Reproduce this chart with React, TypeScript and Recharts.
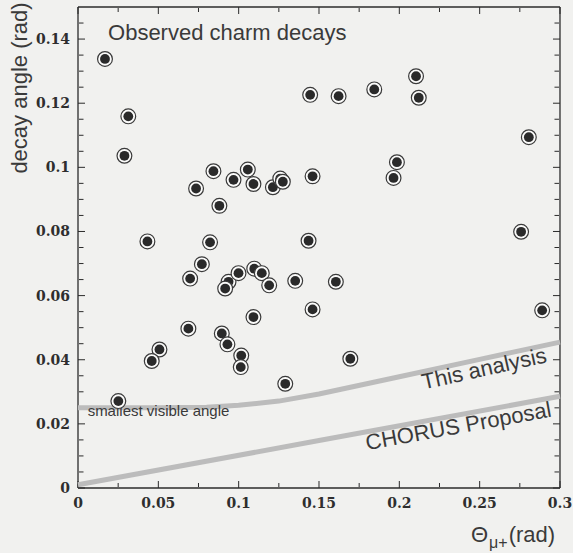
import React from 'react';
import { ScatterChart, Scatter, XAxis, YAxis } from 'recharts';

// Observed charm decays (Theta_mu+ [rad], decay angle [rad])
const decayX = [0.0168, 0.0313, 0.0289, 0.0843, 0.0735, 0.0968, 0.1057, 0.1092, 0.1213, 0.1259, 0.1275, 0.0880, 0.0432, 0.0822, 0.0771, 0.0698, 0.0937, 0.0916, 0.0999, 0.1097, 0.1144, 0.1190, 0.1352, 0.1092, 0.0687, 0.0895, 0.0930, 0.1016, 0.1013, 0.0507, 0.0459, 0.1290, 0.1435, 0.1445, 0.1622, 0.1844, 0.2104, 0.2121, 0.2806, 0.1985, 0.1964, 0.1460, 0.2758, 0.1605, 0.1460, 0.2889, 0.1695, 0.0251];
const decayY = [0.1338, 0.1159, 0.1036, 0.0988, 0.0934, 0.0961, 0.0993, 0.0948, 0.0938, 0.0965, 0.0955, 0.0880, 0.0769, 0.0766, 0.0698, 0.0653, 0.0643, 0.0622, 0.0670, 0.0684, 0.0670, 0.0632, 0.0646, 0.0533, 0.0497, 0.0482, 0.0448, 0.0413, 0.0377, 0.0432, 0.0396, 0.0325, 0.0771, 0.1226, 0.1222, 0.1243, 0.1284, 0.1217, 0.1094, 0.1016, 0.0967, 0.0972, 0.0799, 0.0643, 0.0557, 0.0554, 0.0403, 0.0271];

// Threshold curves
const thisAnalysisX = [0, 0.05, 0.08, 0.1, 0.125, 0.15, 0.2, 0.25, 0.3];
const thisAnalysisY = [0.025, 0.025, 0.0252, 0.0258, 0.0271, 0.0293, 0.0347, 0.0401, 0.0455];
const chorusX = [0, 0.15, 0.3];
const chorusY = [0.001, 0.0148, 0.0286];

// Ticks
const xMajorTicks = [0, 0.05, 0.1, 0.15, 0.2, 0.25, 0.3];
const xTickLabels = ['0', '0.05', '0.1', '0.15', '0.2', '0.25', '0.3'];
const xMinorTicks = [0.025, 0.075, 0.125, 0.175, 0.225, 0.275];
const yMajorTicks = [0, 0.02, 0.04, 0.06, 0.08, 0.1, 0.12, 0.14];
const yTickLabels = ['0', '0.02', '0.04', '0.06', '0.08', '0.1', '0.12', '0.14'];
const yMinorTicks = [0.005, 0.01, 0.015, 0.025, 0.03, 0.035, 0.045, 0.05, 0.055, 0.065, 0.07, 0.075, 0.085, 0.09, 0.095, 0.105, 0.11, 0.115, 0.125, 0.13, 0.135, 0.145];

// Annotations
const noteTexts = ['Observed charm decays', 'smallest visible angle', 'This analysis', 'CHORUS Proposal'];
const noteX = [0.0187, 0.006, 0.2151, 0.1799];
const noteY = [0.1396, 0.0226, 0.0307, 0.0118];
const noteStyle = [
  { size: 22, angle: 0 },
  { size: 15, angle: 0 },
  { size: 22, angle: -12.5 },
  { size: 22, angle: -10.3 },
];

const decays = decayX.map((x, i) => ({ x, y: decayY[i] }));
const thisAnalysis = thisAnalysisX.map((x, i) => ({ x, y: thisAnalysisY[i] }));
const chorus = chorusX.map((x, i) => ({ x, y: chorusY[i] }));
const notes = noteTexts.map((text, i) => ({ x: noteX[i], y: noteY[i], text, idx: i }));

const SANS = 'Liberation Sans, Arial, Helvetica, sans-serif';
const SERIF = 'DejaVu Serif, serif';
const AXIS = '#2b2b2b';

const Marker = (p: any) => (
  <g>
    <circle cx={p.cx} cy={p.cy} r={7.4} fill="#fbfbfa" stroke="#3a3a3a" strokeWidth={1.2} />
    <circle cx={p.cx} cy={p.cy} r={4.9} fill="#2a2a2a" />
  </g>
);

const Empty = () => <g />;

const NoteShape = (p: any) => {
  const st = noteStyle[p.payload.idx];
  return (
    <text
      x={p.cx}
      y={p.cy}
      fontFamily={SANS}
      fontSize={st.size}
      fill="#3a3a3a"
      transform={st.angle ? `rotate(${st.angle} ${p.cx} ${p.cy})` : undefined}
    >
      {p.payload.text}
    </text>
  );
};

const XLabel = (props: any) => {
  const vb = props.viewBox;
  return (
    <text x={vb.x + vb.width - 89} y={vb.y + 54} fontFamily={SANS} fontSize={22} fill="#3a3a3a">
      <tspan>Θ</tspan>
      <tspan dx={1} dy={6} fontSize={16}>μ+</tspan>
      <tspan dx={1} dy={-6}>(rad)</tspan>
    </text>
  );
};

const YLabel = (props: any) => {
  const vb = props.viewBox;
  const cx = vb.x + 27;
  const cy = vb.y + 81;
  return (
    <text x={cx} y={cy} fontFamily={SANS} fontSize={22} fill="#3a3a3a" textAnchor="middle" transform={`rotate(-90 ${cx} ${cy})`}>
      decay angle (rad)
    </text>
  );
};

const tickText = { fontFamily: SERIF, fontSize: 14, fontWeight: 700, fill: '#2e2e2e' };
const tl = { stroke: AXIS, strokeWidth: 1 };
const al = { stroke: AXIS, strokeWidth: 1.3 };

const tickPairs = [
  ['bMaj', 'lMaj'],
  ['bMin', 'lMin'],
  ['tMaj', 'rMaj'],
  ['tMin', 'rMin'],
];

export default function App() {
  return (
    <div style={{ position: 'absolute', left: 0, top: 0, width: 573, height: 553, background: '#f1f1ef' }}>
      <ScatterChart width={573} height={553} margin={{ top: 7, right: 13, bottom: 35, left: 0 }}>
        {/* label axes */}
        <XAxis
          xAxisId="main"
          type="number"
          dataKey="x"
          domain={[0, 0.3]}
          ticks={xMajorTicks}
          tickFormatter={(v: number, i: number) => xTickLabels[i]}
          tick={tickText}
          tickLine={false}
          tickSize={0}
          tickMargin={10}
          axisLine={al}
          height={30}
          interval={0}
          label={XLabel}
        />
        <YAxis
          yAxisId="main"
          type="number"
          dataKey="y"
          domain={[0, 0.15]}
          ticks={yMajorTicks}
          tickFormatter={(v: number, i: number) => yTickLabels[i]}
          tick={tickText}
          tickLine={false}
          tickSize={0}
          tickMargin={8}
          axisLine={al}
          width={78}
          interval={0}
          label={YLabel}
        />
        {/* inward tick marks */}
        <XAxis xAxisId="bMaj" type="number" dataKey="x" domain={[0, 0.3]} ticks={xMajorTicks} mirror height={1} tick={Empty} tickLine={tl} tickSize={7} axisLine={false} interval={0} />
        <XAxis xAxisId="bMin" type="number" dataKey="x" domain={[0, 0.3]} ticks={xMinorTicks} mirror height={1} tick={Empty} tickLine={tl} tickSize={4} axisLine={false} interval={0} />
        <XAxis xAxisId="tMaj" orientation="top" type="number" dataKey="x" domain={[0, 0.3]} ticks={xMajorTicks} mirror height={1} tick={Empty} tickLine={tl} tickSize={7} axisLine={false} interval={0} />
        <XAxis xAxisId="tMin" orientation="top" type="number" dataKey="x" domain={[0, 0.3]} ticks={xMinorTicks} mirror height={1} tick={Empty} tickLine={tl} tickSize={4} axisLine={false} interval={0} />
        <YAxis yAxisId="lMaj" type="number" dataKey="y" domain={[0, 0.15]} ticks={yMajorTicks} mirror width={1} tick={Empty} tickLine={tl} tickSize={7} axisLine={false} interval={0} />
        <YAxis yAxisId="lMin" type="number" dataKey="y" domain={[0, 0.15]} ticks={yMinorTicks} mirror width={1} tick={Empty} tickLine={tl} tickSize={4.5} axisLine={false} interval={0} />
        <YAxis yAxisId="rMaj" orientation="right" type="number" dataKey="y" domain={[0, 0.15]} ticks={yMajorTicks} mirror width={1} tick={Empty} tickLine={tl} tickSize={7} axisLine={false} interval={0} />
        <YAxis yAxisId="rMin" orientation="right" type="number" dataKey="y" domain={[0, 0.15]} ticks={yMinorTicks} mirror width={1} tick={Empty} tickLine={tl} tickSize={4.5} axisLine={false} interval={0} />
        {/* frame: top and right edges */}
        <XAxis xAxisId="tFrame" orientation="top" type="number" dataKey="x" domain={[0, 0.3]} height={0.01} tick={false} tickLine={false} axisLine={al} />
        <YAxis yAxisId="rFrame" orientation="right" type="number" dataKey="y" domain={[0, 0.15]} width={0.01} tick={false} tickLine={false} axisLine={al} />

        {tickPairs.map(([xa, ya]) => (
          <Scatter
            key={xa}
            xAxisId={xa}
            yAxisId={ya}
            data={decays}
            shape={Empty}
            isAnimationActive={false}
            legendType="none"
          />
        ))}
        <Scatter xAxisId="tFrame" yAxisId="rFrame" data={decays} shape={Empty} isAnimationActive={false} legendType="none" />

        <Scatter
          xAxisId="main"
          yAxisId="main"
          data={chorus}
          line={{ stroke: '#bcbcbc', strokeWidth: 5 }}
          lineType="joint"
          shape={Empty}
          isAnimationActive={false}
          legendType="none"
        />
        <Scatter
          xAxisId="main"
          yAxisId="main"
          data={thisAnalysis}
          line={{ stroke: '#bcbcbc', strokeWidth: 5 }}
          lineType="joint"
          shape={Empty}
          isAnimationActive={false}
          legendType="none"
        />
        <Scatter xAxisId="main" yAxisId="main" data={notes} shape={NoteShape} isAnimationActive={false} legendType="none" />
        <Scatter xAxisId="main" yAxisId="main" data={decays} shape={Marker} isAnimationActive={false} legendType="none" />
      </ScatterChart>
    </div>
  );
}
